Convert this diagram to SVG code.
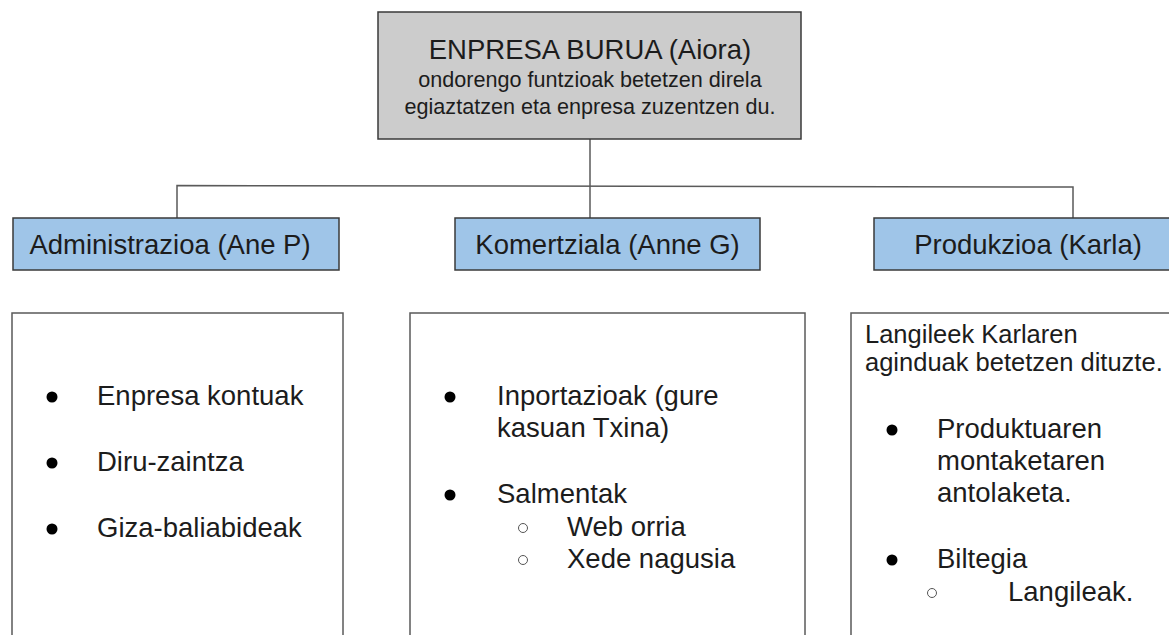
<svg xmlns="http://www.w3.org/2000/svg" width="1169" height="635" viewBox="0 0 1169 635">
<style>
text{font-family:"Liberation Sans",Arial,sans-serif;fill:#1c1c1c}
.t{font-size:27.5px}
.s{font-size:21.6px}
.i{font-size:25.5px}
.head{fill:#cccccc;stroke:#3a3a3a;stroke-width:1.5}
.dept{fill:#9fc5e8;stroke:#3a3a3a;stroke-width:1.5}
.card{fill:#ffffff;stroke:#5a5a5a;stroke-width:1.5}
.conn{fill:none;stroke:#5a5a5a;stroke-width:1.5}
.b{fill:#000}
.h{fill:none;stroke:#555;stroke-width:1}
</style>
<rect width="1169" height="635" fill="#ffffff"/>
<g id="connectors">
<path class="conn" d="M590,139 V218"/>
<path class="conn" d="M177,218 V185.5 L1073,187 V218"/>
</g>
<g id="head">
<rect class="head" x="378" y="12" width="423" height="127"/>
<text class="t" x="590" y="59" text-anchor="middle">ENPRESA BURUA (Aiora)</text>
<text class="s" x="590" y="87" text-anchor="middle">ondorengo funtzioak betetzen direla</text>
<text class="s" x="590" y="114" text-anchor="middle">egiaztatzen eta enpresa zuzentzen du.</text>
</g>
<g id="admin">
<rect class="dept" x="13" y="218" width="326" height="52"/>
<text class="t" x="170" y="254" text-anchor="middle">Administrazioa (Ane P)</text>
</g>
<g id="komertziala">
<rect class="dept" x="455" y="218" width="305" height="52"/>
<text class="t" x="607.5" y="254" text-anchor="middle">Komertziala (Anne G)</text>
</g>
<g id="produkzioa">
<rect class="dept" x="874" y="218" width="308" height="52"/>
<text class="t" x="1028" y="254" text-anchor="middle">Produkzioa (Karla)</text>
</g>
<g id="admin-tasks">
<rect class="card" x="12" y="313" width="331" height="340"/>
<circle class="b" cx="52" cy="397" r="5.5"/>
<text class="t" x="97" y="405">Enpresa kontuak</text>
<circle class="b" cx="52" cy="463" r="5.5"/>
<text class="t" x="97" y="471">Diru-zaintza</text>
<circle class="b" cx="52" cy="529" r="5.5"/>
<text class="t" x="97" y="537">Giza-baliabideak</text>
</g>
<g id="komertziala-tasks">
<rect class="card" x="410" y="313" width="395" height="340"/>
<circle class="b" cx="450" cy="397" r="5.5"/>
<text class="t" x="497" y="405">Inportazioak (gure</text>
<text class="t" x="497" y="437">kasuan Txina)</text>
<circle class="b" cx="450" cy="495" r="5.5"/>
<text class="t" x="497" y="503">Salmentak</text>
<circle class="h" cx="523" cy="528" r="4.5"/>
<text class="t" x="567" y="536">Web orria</text>
<circle class="h" cx="523" cy="560" r="4.5"/>
<text class="t" x="567" y="568">Xede nagusia</text>
</g>
<g id="produkzioa-tasks">
<rect class="card" x="851" y="313" width="340" height="340"/>
<text class="i" x="865" y="343">Langileek Karlaren</text>
<text class="i" x="865" y="371">aginduak betetzen dituzte.</text>
<circle class="b" cx="892" cy="430" r="5.5"/>
<text class="t" x="937" y="438">Produktuaren</text>
<text class="t" x="937" y="470">montaketaren</text>
<text class="t" x="937" y="502">antolaketa.</text>
<circle class="b" cx="892" cy="560" r="5.5"/>
<text class="t" x="937" y="568">Biltegia</text>
<circle class="h" cx="932" cy="593" r="4.5"/>
<text class="t" x="1008" y="601">Langileak.</text>
</g>
</svg>
